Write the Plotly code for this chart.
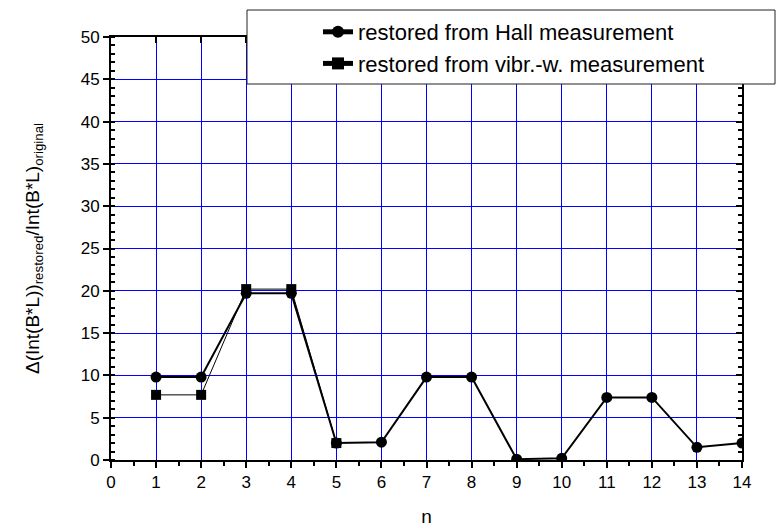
import plotly.graph_objects as go

n_hall = [1, 2, 3, 4, 5, 6, 7, 8, 9, 10, 11, 12, 13, 14]
hall = [9.8, 9.8, 19.7, 19.7, 2.0, 2.1, 9.8, 9.8, 0.1, 0.2, 7.4, 7.4, 1.5, 2.0]
n_vibr = [1, 2, 3, 4, 5]
vibr = [7.7, 7.7, 20.2, 20.2, 2.0]

x_ticks = list(range(0, 15))
y_ticks = list(range(0, 51, 5))

FONT = "Arial, Liberation Sans, sans-serif"
W, H = 776, 532
L, R, T, B = 111, 34, 37, 72
pw, ph = W - L - R, H - T - B

fig = go.Figure()
fig.add_trace(go.Scatter(
    x=n_hall, y=hall, mode="lines+markers",
    name="restored from Hall measurement",
    line=dict(color="black", width=2),
    marker=dict(symbol="circle", size=11, color="black"),
))
fig.add_trace(go.Scatter(
    x=n_vibr, y=vibr, mode="lines+markers",
    name="restored from vibr.-w. measurement",
    line=dict(color="black", width=1),
    marker=dict(symbol="square", size=10, color="black"),
))
fig.add_trace(go.Scatter(x=[], y=[], xaxis="x2", yaxis="y2", showlegend=False))

def px_to_paper_x(px):
    return (px - L) / pw

def px_to_paper_y(py):
    return (H - B - py) / ph

fig.add_shape(type="rect", xref="paper", yref="paper",
              x0=px_to_paper_x(247), x1=px_to_paper_x(775),
              y0=px_to_paper_y(84), y1=px_to_paper_y(10),
              fillcolor="white", line=dict(color="#222", width=1), layer="above")

fig.update_layout(
    width=W, height=H,
    margin=dict(l=L, r=R, t=T, b=B, autoexpand=False),
    paper_bgcolor="white", plot_bgcolor="white",
    font=dict(family=FONT, color="black", size=17),
    showlegend=True,
    legend=dict(
        x=px_to_paper_x(318), y=px_to_paper_y(11), xanchor="left", yanchor="top",
        bgcolor="rgba(0,0,0,0)", borderwidth=0,
        font=dict(family=FONT, size=22, color="black"),
        tracegroupgap=0, itemsizing="constant",
    ),
    xaxis=dict(
        range=[0, 14], tickvals=x_ticks, ticktext=[str(v) for v in x_ticks],
        showgrid=True, gridcolor="#0000ff", gridwidth=1,
        showline=True, linecolor="black", linewidth=2,
        ticks="outside", ticklen=6, tickwidth=1.5, tickcolor="black",
        minor=dict(dtick=0.5, tick0=0, ticks="outside", ticklen=4, tickwidth=1.5, tickcolor="black", showgrid=False),
        zeroline=False,
        tickfont=dict(size=17),
        title=dict(text="n", font=dict(size=19), standoff=18),
    ),
    yaxis=dict(
        range=[0, 50], tickvals=y_ticks, ticktext=[str(v) for v in y_ticks],
        showgrid=True, gridcolor="#0000ff", gridwidth=1,
        showline=True, linecolor="black", linewidth=2,
        ticks="outside", ticklen=6, tickwidth=1.5, tickcolor="black",
        minor=dict(dtick=1, tick0=0, ticks="inside", ticklen=4, tickwidth=1.5, tickcolor="black", showgrid=False),
        zeroline=False,
        tickfont=dict(size=17),
        title=dict(text="Δ(Int(B*L))<sub>restored</sub>/Int(B*L)<sub>original</sub>",
                   font=dict(size=19), standoff=36),
    ),
    xaxis2=dict(
        overlaying="x", side="top", range=[0, 14], tickvals=x_ticks,
        showticklabels=False, showgrid=False, zeroline=False,
        showline=True, linecolor="black", linewidth=2,
        ticks="inside", ticklen=6, tickwidth=1.5, tickcolor="black",
    ),
    yaxis2=dict(
        overlaying="y", side="right", range=[0, 50], tickvals=y_ticks,
        showticklabels=False, showgrid=False, zeroline=False,
        showline=True, linecolor="black", linewidth=2,
        ticks="inside", ticklen=6, tickwidth=1.5, tickcolor="black",
        minor=dict(dtick=1, tick0=0, ticks="inside", ticklen=4, tickwidth=1.5, tickcolor="black"),
    ),
)

fig.write_html("out.html")
